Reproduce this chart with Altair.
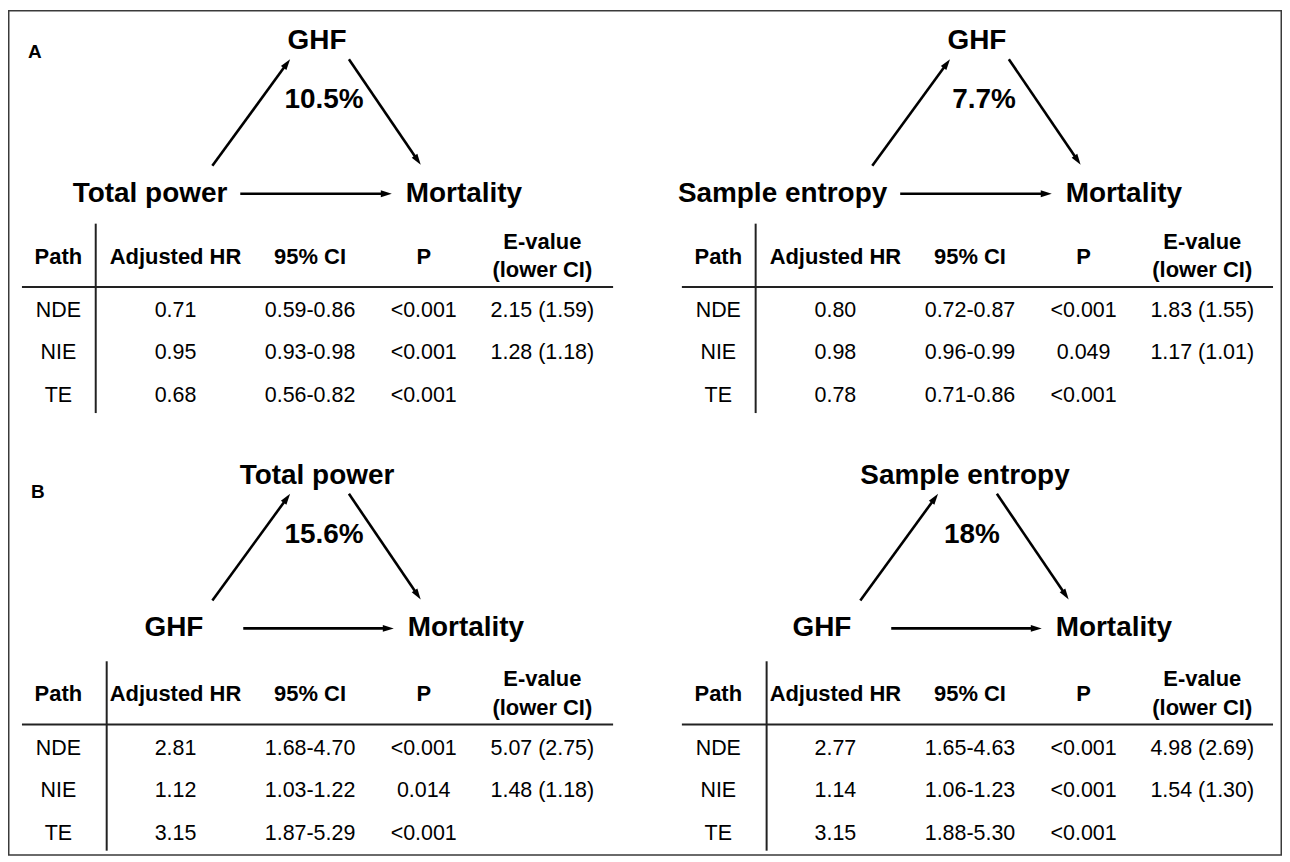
import math
import altair as alt
import pandas as pd

# ---------------- data ----------------
panel_letters = ["A", "B"]

exposure_names = ["Total power", "Sample entropy", "GHF", "GHF"]
mediator_names = ["GHF", "GHF", "Total power", "Sample entropy"]
outcome_names = ["Mortality", "Mortality", "Mortality", "Mortality"]
mediated_share = ["10.5%", "7.7%", "15.6%", "18%"]

header_line1 = ["Path", "Adjusted HR", "95% CI", "P", "E-value"]
header_line2 = ["", "", "", "", "(lower CI)"]
path_names = ["NDE", "NIE", "TE"]

hr_tp = ["0.71", "0.95", "0.68"]
ci_tp = ["0.59-0.86", "0.93-0.98", "0.56-0.82"]
p_tp = ["<0.001", "<0.001", "<0.001"]
ev_tp = ["2.15 (1.59)", "1.28 (1.18)", ""]

hr_se = ["0.80", "0.98", "0.78"]
ci_se = ["0.72-0.87", "0.96-0.99", "0.71-0.86"]
p_se = ["<0.001", "0.049", "<0.001"]
ev_se = ["1.83 (1.55)", "1.17 (1.01)", ""]

hr_ghf_tp = ["2.81", "1.12", "3.15"]
ci_ghf_tp = ["1.68-4.70", "1.03-1.22", "1.87-5.29"]
p_ghf_tp = ["<0.001", "0.014", "<0.001"]
ev_ghf_tp = ["5.07 (2.75)", "1.48 (1.18)", ""]

hr_ghf_se = ["2.77", "1.14", "3.15"]
ci_ghf_se = ["1.65-4.63", "1.06-1.23", "1.88-5.30"]
p_ghf_se = ["<0.001", "<0.001", "<0.001"]
ev_ghf_se = ["4.98 (2.69)", "1.54 (1.30)", ""]

tables = [
    (hr_tp, ci_tp, p_tp, ev_tp),
    (hr_se, ci_se, p_se, ev_se),
    (hr_ghf_tp, ci_ghf_tp, p_ghf_tp, ev_ghf_tp),
    (hr_ghf_se, ci_ghf_se, p_ghf_se, ev_ghf_se),
]

# ---------------- layout (pixel-like coordinate space) ----------------
FONT = "Liberation Sans"
W, H = 1278, 849
X0, Y0 = 8, 8

panels = [
    dict(ddx=0, ddy=0, tdx=0, tdy=0, vline=96, exp_right=228, out_left=407, hx1=241, hx2=393),
    dict(ddx=662, ddy=0, tdx=662, tdy=0, vline=96, exp_right=228, out_left=407, hx1=241, hx2=393),
    dict(ddx=0, ddy=436, tdx=0, tdy=439, vline=107, exp_right=204, out_left=409, hx1=244, hx2=395),
    dict(ddx=650, ddy=436, tdx=662, tdy=439, vline=107, exp_right=204, out_left=409, hx1=244, hx2=395),
]
letter_pos = [(28, 57), (31, 498)]

top_cx, top_base = 318, 48
pct_cx, pct_base = 325, 107
bottom_base, harrow_y = 201, 193
up_arrow = (213, 165, 291, 58)
down_arrow = (350, 58, 422, 164)

col_x = [58.5, 176, 311, 425, 544]
head_single, head_l1, head_l2 = 263, 248, 277
row_base = [317, 359, 402]
hline = (22, 615, 286.5)
vline_y = (223, 413)

# ---------------- build tables ----------------
letters, centered, right_lab, left_lab, heads1, cells = [], [], [], [], [], []
lines, arrows, tips = [], [], []

for (lx, ly), t in zip(letter_pos, panel_letters):
    letters.append(dict(x=lx, y=ly, text=t))


def add_arrow(x1, y1, x2, y2):
    dx, dy = x2 - x1, y2 - y1
    L = math.hypot(dx, dy)
    ux, uy = dx / L, dy / L
    arrows.append(dict(x=x1, y=y1, x2=x2 - 7 * ux, y2=y2 - 7 * uy))
    ang = math.degrees(math.atan2(dx, -dy)) % 360
    tips.append(dict(x=x2, y=y2, angle=ang))


for i, pnl in enumerate(panels):
    ddx, ddy, tdx, tdy = pnl["ddx"], pnl["ddy"], pnl["tdx"], pnl["tdy"]
    centered.append(dict(x=top_cx + ddx, y=top_base + ddy, text=mediator_names[i]))
    centered.append(dict(x=pct_cx + ddx, y=pct_base + ddy, text=mediated_share[i]))
    right_lab.append(dict(x=pnl["exp_right"] + ddx, y=bottom_base + ddy, text=exposure_names[i]))
    left_lab.append(dict(x=pnl["out_left"] + ddx, y=bottom_base + ddy, text=outcome_names[i]))
    add_arrow(pnl["hx1"] + ddx, harrow_y + ddy, pnl["hx2"] + ddx, harrow_y + ddy)
    add_arrow(up_arrow[0] + ddx, up_arrow[1] + ddy, up_arrow[2] + ddx, up_arrow[3] + ddy)
    add_arrow(down_arrow[0] + ddx, down_arrow[1] + ddy, down_arrow[2] + ddx, down_arrow[3] + ddy)

    # table header
    for c, (h1, h2) in enumerate(zip(header_line1, header_line2)):
        if h2:
            heads1.append(dict(x=col_x[c] + tdx, y=head_l1 + tdy, text=h1))
            heads1.append(dict(x=col_x[c] + tdx, y=head_l2 + tdy, text=h2))
        else:
            heads1.append(dict(x=col_x[c] + tdx, y=head_single + tdy, text=h1))
    # table cells
    hr, ci, pv, ev = tables[i]
    for r in range(3):
        vals = [path_names[r], hr[r], ci[r], pv[r], ev[r]]
        for c, v in enumerate(vals):
            if v:
                cells.append(dict(x=col_x[c] + tdx, y=row_base[r] + tdy, text=v))
    # table lines
    lines.append(dict(x=hline[0] + tdx, x2=hline[1] + tdx, y=hline[2] + tdy, y2=hline[2] + tdy))
    lines.append(dict(x=pnl["vline"] + tdx, x2=pnl["vline"] + tdx, y=vline_y[0] + tdy, y2=vline_y[1] + tdy))

border = pd.DataFrame([dict(x=8.75, x2=X0 + W - 0.75, y=9.5, y2=Y0 + H - 0.75)])

# ---------------- encodings ----------------
xs = alt.Scale(domain=[X0, X0 + W], nice=False, zero=False)
ys = alt.Scale(domain=[Y0, Y0 + H], nice=False, zero=False, reverse=True)
X = alt.X("x:Q", scale=xs, axis=None)
Y = alt.Y("y:Q", scale=ys, axis=None)


def text_layer(rows, size, weight, align):
    return alt.Chart(pd.DataFrame(rows)).mark_text(
        font=FONT, fontSize=size, fontWeight=weight, align=align,
        baseline="alphabetic", color="#000000"
    ).encode(x=X, y=Y, text="text:N")


def rule_layer(rows, width, color):
    return alt.Chart(pd.DataFrame(rows)).mark_rule(
        strokeWidth=width, color=color, strokeCap="butt"
    ).encode(x=X, y=Y, x2="x2:Q", y2="y2:Q")


border_layer = alt.Chart(border).mark_rect(
    filled=False, stroke="#3a3a3a", strokeWidth=1.5
).encode(x=X, y=Y, x2="x2:Q", y2="y2:Q")

HEAD_SHAPE = "M0,0L0.34,1.1L-0.34,1.1Z"
tip_layer = alt.Chart(pd.DataFrame(tips)).mark_point(
    shape=HEAD_SHAPE, size=400, filled=True, color="#000000", opacity=1, strokeWidth=0
).encode(x=X, y=Y, angle=alt.Angle("angle:Q", scale=None))

chart = alt.layer(
    border_layer,
    rule_layer(lines, 2, "#222222"),
    rule_layer(arrows, 2.6, "#000000"),
    tip_layer,
    text_layer(letters, 19, "bold", "left"),
    text_layer(centered, 28, "bold", "center"),
    text_layer(right_lab, 28, "bold", "right"),
    text_layer(left_lab, 28, "bold", "left"),
    text_layer(heads1, 22, "bold", "center"),
    text_layer(cells, 21.5, "normal", "center"),
).properties(
    width=W, height=H, padding=0, autosize=alt.AutoSizeParams(type="none"),
    background="white"
).configure_view(stroke=None)

chart.save("out.html", embed_options={"renderer": "svg", "actions": False})
